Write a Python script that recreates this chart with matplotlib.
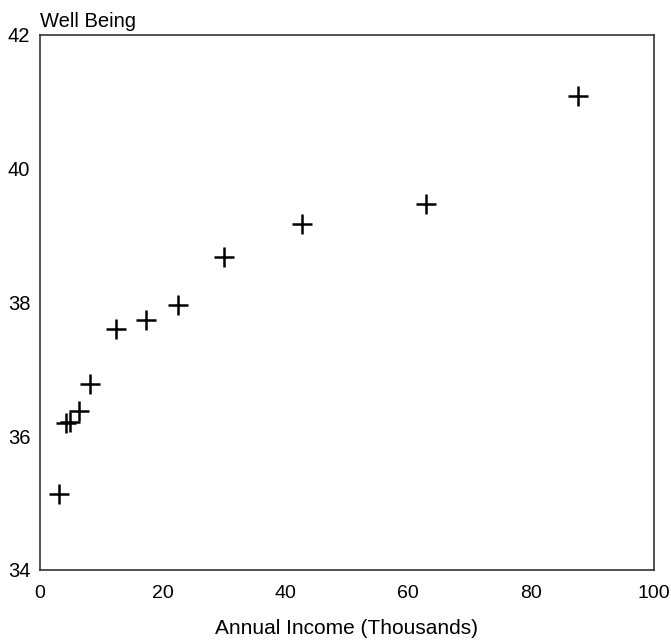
import matplotlib
matplotlib.use('Agg')
import matplotlib.pyplot as plt

plt.rcParams['font.family'] = ['Liberation Sans', 'DejaVu Sans']

# income (thousands) vs. mean well-being score
income = [3.1, 4.2, 4.9, 6.3, 8.1, 12.3, 17.2, 22.4, 30.0, 42.7, 62.8, 87.7]
well_being = [35.14, 36.20, 36.22, 36.38, 36.78, 37.61, 37.74, 37.96,
              38.68, 39.17, 39.47, 41.09]

x_ticks = [0, 20, 40, 60, 80, 100]
y_ticks = [34, 36, 38, 40, 42]

fig = plt.figure(figsize=(6.71, 6.40), dpi=100)
ax = fig.add_axes([0.0596, 0.1094, 0.915, 0.836])

ax.plot(income, well_being, linestyle='none', marker='+', color='black',
        markersize=15, markeredgewidth=1.8)

ax.set_xlim(0, 100)
ax.set_ylim(34, 42)
ax.set_xticks(x_ticks)
ax.set_yticks(y_ticks)
ax.tick_params(length=0, labelsize=14.5)
ax.tick_params(axis='x', labelsize=14, pad=11)
ax.tick_params(axis='y', pad=7)
for spine in ax.spines.values():
    spine.set_color('#333333')
    spine.set_linewidth(1.2)

ax.set_xlabel('Annual Income (Thousands)', fontsize=15, labelpad=12)
fig.text(0.0596, 0.958, 'Well Being', fontsize=14.5, ha='left', va='baseline')

fig.savefig('out.png', dpi=100)
